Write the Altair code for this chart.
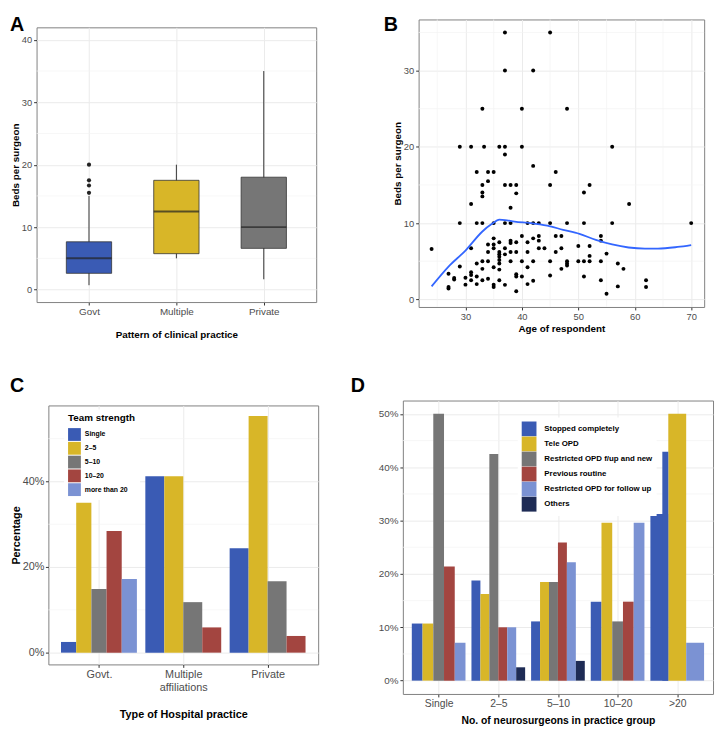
import json
import altair as alt
import pandas as pd

FONT = "Liberation Sans"
BLUE, YELLOW, GRAY, RED, LBLUE, NAVY = "#3A5BB4", "#D8B628", "#767676", "#A34540", "#7B92D3", "#1E2B55"
GRID, MINOR, TICK, LABEL = "#EBEBEB", "#F3F3F3", "#333333", "#4D4D4D"

# ---------------- Panel A data (box plot summaries) ----------------
a_groups = ["Govt", "Multiple", "Private"]
a_low = [0.7, 5.0, 1.65]
a_q1 = [2.6, 5.75, 6.6]
a_median = [5.0, 12.5, 10.0]
a_q3 = [7.65, 17.5, 18.0]
a_high = [15.0, 20.0, 35.0]
a_out_group = ["Govt", "Govt", "Govt", "Govt"]
a_out_value = [15.5, 16.67, 17.5, 20.0]
a_colors = [BLUE, YELLOW, GRAY]
a_major = [0, 10, 20, 30, 40]
a_minor = [5, 15, 25, 35]

# ---------------- Panel B data (scatter + smooth) ----------------
b_age = [37, 45, 37, 42, 33, 40, 48,
         29, 31, 33.3, 36, 37, 40, 56,
         37, 42, 32, 34, 35, 46, 34,
         33, 37, 38, 39, 45, 52,
         33, 33, 39, 51, 38, 31, 59,
         29, 32, 33, 35, 37, 38, 41, 42, 43, 45, 48, 51, 56, 70,
         24, 40, 35, 42, 43, 46, 47, 54, 54, 38, 38, 36, 34, 35, 39, 41, 43, 50, 52, 31, 35, 37, 43, 44, 47,
         34, 36, 38, 39, 41, 46, 36, 37, 36, 52, 55,
         32, 36, 33, 34, 38, 40, 42, 45, 48, 50, 51, 52, 54,
         36, 48, 48, 57, 29, 35, 41, 47, 36, 58, 33,
         27, 31, 31, 32, 39, 39, 40, 45, 51,
         28, 28, 30, 31, 33, 34, 36, 42, 54, 62,
         27, 27, 30, 32, 35, 35, 37, 41, 57, 62, 39, 55]
b_beds = [35, 35, 30, 30, 25, 25, 25,
          20, 20, 20, 20, 20, 20, 20,
          19, 17.5, 16.7, 16.7, 16.7, 16.7, 15.5,
          15, 15, 15, 15, 15, 15,
          14, 13.5, 13.9, 14, 12, 12.5, 12.5,
          10, 10, 10, 10, 10, 10, 10, 10, 10, 10, 10, 10, 10, 10,
          6.6, 8.3, 8.0, 8.0, 8.3, 8.3, 8.3, 8.3, 7.7, 7.7, 7.4, 7.5, 7.2, 7.2, 7.5, 7.5, 7.7, 7.0, 7.0, 6.7, 6.7, 6.7, 6.7, 6.7, 6.7,
          6.2, 6.2, 6.2, 6.2, 6.2, 6.2, 5.9, 5.9, 5.6, 5.7, 6.0,
          4.7, 5.15, 5.0, 5.0, 5.0, 5.0, 5.0, 5.0, 5.0, 5.0, 5.0, 5.0, 5.0,
          4.7, 4.7, 4.45, 4.7, 4.3, 4.2, 4.2, 4.0, 3.9, 4.0, 4.0,
          3.35, 3.56, 3.2, 3.0, 3.3, 3.0, 3.0, 3.13, 3.0,
          2.8, 2.6, 2.83, 2.5, 2.5, 2.7, 2.5, 2.45, 2.5, 2.5,
          1.63, 1.42, 1.93, 2.0, 1.93, 1.63, 1.9, 2.0, 1.7, 1.63, 1.07, 0.73]
b_fit_age = [24, 27, 30, 33, 34.7, 36, 37, 38.7, 41.6, 44.5, 47.3, 50.2, 53.1, 56, 58.9, 61.8, 64.1, 67.6, 70]
b_fit_beds = [1.7, 4.3, 6.4, 8.9, 9.9, 10.45, 10.4, 10.2, 10.0, 9.66, 9.12, 8.58, 7.8, 7.2, 6.8, 6.65, 6.65, 6.87, 7.12]
b_xmajor = [30, 40, 50, 60, 70]
b_xminor = [25, 35, 45, 55, 65]
b_ymajor = [0, 10, 20, 30]
b_yminor = [5, 15, 25, 35]

# ---------------- Panel C data ----------------
c_groups = ["Govt.", "Multiple affiliations", "Private"]
c_group_labels = ["Govt.", ["Multiple", "affiliations"], "Private"]
c_series = ["Single", "2–5", "5–10", "10–20", "more than 20"]
c_colors = [BLUE, YELLOW, GRAY, RED, LBLUE]
c_group = ["Govt."] * 5 + ["Multiple affiliations"] * 4 + ["Private"] * 4
c_team = c_series + c_series[:4] + c_series[:4]
c_pct = [2.5, 35.0, 14.9, 28.4, 17.2,
         41.2, 41.2, 11.8, 5.9,
         24.4, 55.3, 16.7, 3.9]
c_major = [0, 20, 40]
c_minor = [10, 30, 50]

# ---------------- Panel D data ----------------
d_groups = ["Single", "2–5", "5–10", "10–20", ">20"]
d_series = ["Stopped completely", "Tele OPD", "Restricted OPD f/up and new",
            "Previous routine", "Restricted OPD for follow up", "Others"]
d_colors = [BLUE, YELLOW, GRAY, RED, LBLUE, NAVY]
d_group = ["Single"] * 5 + ["2–5"] * 6 + ["5–10"] * 6 + ["10–20"] * 5 + [">20"] * 3
d_mode = (d_series[:5] + d_series + d_series + d_series[:5]
          + ["Stopped completely", "Tele OPD", "Restricted OPD for follow up"])
d_pct = [10.7, 10.7, 50.0, 21.4, 7.1,
         18.75, 16.25, 42.5, 10.0, 10.0, 2.5,
         11.1, 18.5, 18.5, 25.9, 22.2, 3.7,
         14.8, 29.6, 11.1, 14.8, 29.6,
         31.25, 50.0, 7.1]
# second (overlapping) "Stopped completely" bar drawn in the >20 slot
d_extra_group = [">20"]
d_extra_mode = ["Stopped completely"]
d_extra_pct = [42.9]
d_major = [0, 10, 20, 30, 40, 50]
d_minor = [5, 15, 25, 35, 45]


def dodge(groups, group_col, series_col, series_order, width=0.9):
    df = pd.DataFrame({"g": group_col, "s": series_col})
    x0, x1 = [], []
    for g, s in zip(group_col, series_col):
        gi = groups.index(g)
        present = sorted(df[df.g == g].s.tolist(), key=series_order.index)
        n = len(present)
        k = present.index(s)
        w = width / n
        x0.append(gi - width / 2 + k * w)
        x1.append(gi - width / 2 + (k + 1) * w)
    return x0, x1


def axis(**kw):
    base = dict(grid=True, gridColor=GRID, gridWidth=1, domain=False, tickColor=TICK,
                tickSize=3, labelColor=LABEL, labelFont=FONT, titleFont=FONT,
                titleColor="black", titleFontWeight="bold")
    base.update(kw)
    return alt.Axis(**base)


def hrules(values, scale, ax):
    return alt.Chart(pd.DataFrame({"v": values})).mark_rule(color=MINOR, strokeWidth=0.7).encode(
        y=alt.Y("v:Q", scale=scale, axis=ax))


def vrules(values, scale, ax):
    return alt.Chart(pd.DataFrame({"v": values})).mark_rule(color=MINOR, strokeWidth=0.7).encode(
        x=alt.X("v:Q", scale=scale, axis=ax))


def letter(t, dx, dy):
    return alt.Chart(pd.DataFrame({"t": [t]})).mark_text(
        align="left", baseline="top", fontSize=20, fontWeight="bold", font=FONT, color="black"
    ).encode(x=alt.value(dx), y=alt.value(dy), text="t:N")


def anchor(px, py):
    # 1x1 white square in an empty margin: fixes the extent of a panel for the grid layout
    return alt.Chart(pd.DataFrame({"t": [0]})).mark_rect(color="white", opacity=0.01).encode(
        x=alt.value(px), x2=alt.value(px + 1), y=alt.value(py), y2=alt.value(py + 1))


def anchors(left, top, right, bottom):
    return [anchor(-left, -top), anchor(right - 1, -top), anchor(-left, bottom - 1)]


def spacer(w, h):
    return alt.Chart(pd.DataFrame({"t": [0]})).mark_rect(color="white", opacity=0.01).encode(
        x=alt.value(0), x2=alt.value(w), y=alt.value(0), y2=alt.value(h)
    ).properties(width=w, height=h, view=alt.ViewBackground(stroke="transparent", strokeWidth=0))


# ---------------- Panel A ----------------
WA, HA = 284, 279
dfA = pd.DataFrame({"group": a_groups, "low": a_low, "q1": a_q1, "median": a_median,
                    "q3": a_q3, "high": a_high})
dfAo = pd.DataFrame({"group": a_out_group, "value": a_out_value})
axs = alt.Scale(type="point", domain=a_groups, padding=0.6)
ays = alt.Scale(domain=[-2, 42], nice=False, zero=False)
AXA = axis(title="Pattern of clinical practice", labelAngle=0, labelFontSize=10, titleFontSize=10,
           labelPadding=2, titlePadding=13)
AYA = axis(title="Beds per surgeon", values=a_major, labelFontSize=9.5, titleFontSize=10,
           labelPadding=2, titlePadding=1)
AX = alt.X("group:N", scale=axs, axis=AXA)
whisk = alt.Chart(dfA).mark_rule(color=TICK, strokeWidth=1).encode(
    x=AX, y=alt.Y("low:Q", scale=ays, axis=AYA), y2="high:Q")
box = alt.Chart(dfA).mark_bar(size=46, stroke=TICK, strokeWidth=0.8).encode(
    x=AX, y=alt.Y("q1:Q", scale=ays, axis=AYA), y2="q3:Q",
    color=alt.Color("group:N", scale=alt.Scale(domain=a_groups, range=a_colors), legend=None))
med = alt.Chart(dfA).mark_tick(size=46, thickness=2, color="#222222").encode(
    x=AX, y=alt.Y("median:Q", scale=ays, axis=AYA))
outl = alt.Chart(dfAo).mark_circle(size=18, color="#222222", opacity=1).encode(
    x=AX, y=alt.Y("value:Q", scale=ays, axis=AYA))
chartA = alt.layer(hrules(a_minor, ays, AYA), whisk, box, med, outl, letter("A", -27, -12),
                   *anchors(27, 12, WA + 1, HA + 45)).properties(width=WA, height=HA)

# ---------------- Panel B ----------------
WB, HB = 290, 292
dfB = pd.DataFrame({"age": b_age, "beds": b_beds})
dfBf = pd.DataFrame({"age": b_fit_age, "beds": b_fit_beds})
bxs = alt.Scale(domain=[21.7, 72.3], nice=False, zero=False)
bys = alt.Scale(domain=[-1.0, 36.7], nice=False, zero=False)
AXB = axis(title="Age of respondent", values=b_xmajor, labelFontSize=9.5, titleFontSize=10,
           labelPadding=2, titlePadding=2)
AYB = axis(title="Beds per surgeon", values=b_ymajor, labelFontSize=9.5, titleFontSize=10,
           labelPadding=2, titlePadding=1)
pts = alt.Chart(dfB).mark_circle(size=16, color="black", opacity=1).encode(
    x=alt.X("age:Q", scale=bxs, axis=AXB), y=alt.Y("beds:Q", scale=bys, axis=AYB))
fit = alt.Chart(dfBf).mark_line(color="#3366FF", strokeWidth=1.8, interpolate="monotone").encode(
    x=alt.X("age:Q", scale=bxs, axis=AXB), y=alt.Y("beds:Q", scale=bys, axis=AYB))
chartB = alt.layer(hrules(b_yminor, bys, AYB), vrules(b_xminor, bxs, AXB), pts, fit,
                   letter("B", -35.3, -4),
                   *anchors(101, 4, WB + 1, HB + 35)).properties(width=WB, height=HB)

# ---------------- Panel C ----------------
WC, HC = 274, 263
cx0, cx1 = dodge(c_groups, c_group, c_team, c_series)
dfC = pd.DataFrame({"group": c_group, "team": c_team, "pct": c_pct, "x0": cx0, "x1": cx1})
cxs = alt.Scale(domain=[-0.6, len(c_groups) - 0.4], nice=False, zero=False)
cys = alt.Scale(domain=[-2.75, 57.75], nice=False, zero=False)
c_label_expr = json.dumps(c_group_labels) + "[datum.value]"
AXC = axis(title="Type of Hospital practice", values=list(range(len(c_groups))),
           labelExpr=c_label_expr, labelFontSize=11, titleFontSize=11,
           labelPadding=1, titlePadding=17, labelLineHeight=13)
AYC = axis(title="Percentage", values=c_major, labelExpr="datum.value + '%'",
           labelFontSize=11, titleFontSize=11, labelPadding=1.5, titlePadding=1)
barsC = alt.Chart(dfC).mark_rect().encode(
    x=alt.X("x0:Q", scale=cxs, axis=AXC), x2="x1:Q",
    y=alt.Y("pct:Q", scale=cys, axis=AYC), y2=alt.datum(0),
    color=alt.Color("team:N", scale=alt.Scale(domain=c_series, range=c_colors),
                    legend=alt.Legend(title="Team strength", orient="none", legendX=16, legendY=4,
                                      symbolType="square", symbolSize=169, symbolStrokeWidth=0,
                                      labelFont=FONT, labelFontSize=7, labelFontWeight="bold",
                                      titleFont=FONT, titleFontSize=10, titleFontWeight="bold",
                                      rowPadding=1, fillColor="white", padding=4, titlePadding=5)))
chartC = alt.layer(hrules(c_minor, cys, AYC), barsC, letter("C", -39, -30),
                   *anchors(39, 55, WC + 1, HC + 40)).properties(width=WC, height=HC)

# ---------------- Panel D ----------------
WD, HD = 315, 298
dx0, dx1 = dodge(d_groups, d_group, d_mode, d_series)
dfD = pd.DataFrame({"group": d_group, "mode": d_mode, "pct": d_pct, "x0": dx0, "x1": dx1})
ex0, ex1 = [], []
for g, m in zip(d_extra_group, d_extra_mode):
    row = dfD[(dfD.group == g) & (dfD["mode"] == m)].iloc[0]
    ex0.append(row.x0 + (row.x1 - row.x0) * 2 / 3)
    ex1.append(row.x1)
dfDe = pd.DataFrame({"group": d_extra_group, "mode": d_extra_mode, "pct": d_extra_pct, "x0": ex0, "x1": ex1})
dxs = alt.Scale(domain=[-0.6, len(d_groups) - 0.4], nice=False, zero=False)
dys = alt.Scale(domain=[-2.5, 52.5], nice=False, zero=False)
dcol = alt.Color("mode:N", scale=alt.Scale(domain=d_series, range=d_colors),
                 legend=alt.Legend(title=None, orient="none", legendX=116.7, legendY=17.3,
                                   symbolType="square", symbolSize=225, symbolStrokeWidth=0,
                                   labelFont=FONT, labelFontSize=8, labelFontWeight="bold",
                                   rowPadding=0.3, fillColor="white", padding=4, labelOffset=8))
d_label_expr = json.dumps(d_groups) + "[datum.value]"
AXD = axis(title="No. of neurosurgeons in practice group", values=list(range(len(d_groups))),
           labelExpr=d_label_expr, labelFontSize=10.5, titleFontSize=10.5, labelPadding=2,
           titlePadding=7)
AYD = axis(title=None, values=d_major, labelExpr="datum.value + '%'", labelFontSize=10, labelPadding=2)
barsD = alt.Chart(dfD).mark_rect().encode(
    x=alt.X("x0:Q", scale=dxs, axis=AXD), x2="x1:Q",
    y=alt.Y("pct:Q", scale=dys, axis=AYD), y2=alt.datum(0), color=dcol)
extraD = alt.Chart(dfDe).mark_rect().encode(
    x=alt.X("x0:Q", scale=dxs, axis=AXD), x2="x1:Q",
    y=alt.Y("pct:Q", scale=dys, axis=AYD), y2=alt.datum(0), color=dcol)
chartD = alt.layer(hrules(d_minor, dys, AYD), barsD, extraD, letter("D", -53, -24.7),
                   *anchors(73, 58, WD + 1, HD + 30)).properties(width=WD, height=HD)

chart = alt.concat(
    spacer(1, 1), spacer(1, 1), spacer(1, 1),
    spacer(1, 1), chartA, chartB,
    spacer(1, 1), chartC, chartD,
    columns=3, spacing=0, align="none",
).properties(padding=0).resolve_scale(color="independent").configure_view(
    stroke="#808080", strokeWidth=1)

chart.save("out.html", embed_options={"renderer": "svg", "actions": False})
